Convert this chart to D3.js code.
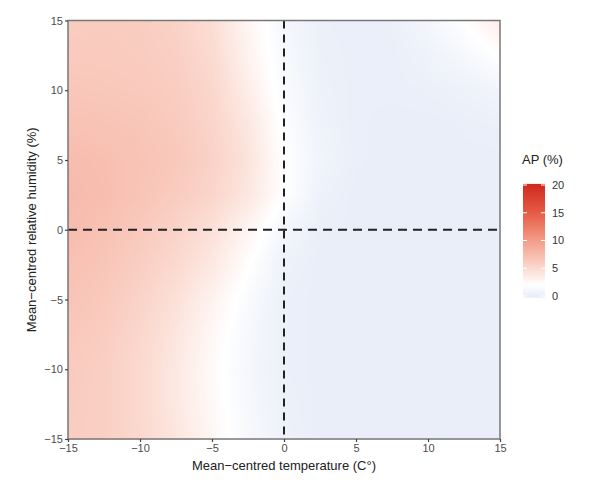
<!DOCTYPE html>
<html>
<head>
<meta charset="utf-8">
<script src="https://cdn.jsdelivr.net/npm/d3@7"></script>
<style>
  body { margin: 0; background: #fff; }
  svg { font-family: "Liberation Sans", Arial, sans-serif; }
</style>
</head>
<body>
<div id="chart"></div>
<script>
// grid of AP (%), x = temperature, y = humidity
const tempSteps = [-15, -12.5, -10, -7.5, -5, -2.5, 0, 2.5, 5, 7.5, 10, 12.5, 15];
const humSteps = [15, 12.5, 10, 7.5, 5, 2.5, 0, -2.5, -5, -7.5, -10, -12.5, -15];
const apGrid = [
  [6.0, 6.1, 6.0, 5.6, 4.6, 2.8, 1.1, 0.3, 0.2, 0.3, 1.0, 2.0, 3.5],
  [6.2, 6.2, 6.1, 5.8, 4.9, 3.0, 1.3, 0.4, 0.2, 0.2, 0.6, 1.2, 2.0],
  [6.5, 6.4, 6.3, 6.0, 5.2, 3.4, 1.5, 0.5, 0.2, 0.2, 0.3, 0.5, 0.8],
  [6.9, 6.8, 6.6, 6.2, 5.4, 3.9, 1.8, 0.6, 0.2, 0.1, 0.1, 0.2, 0.3],
  [7.3, 7.1, 6.8, 6.4, 5.6, 4.2, 2.0, 0.8, 0.2, 0.1, 0.1, 0.1, 0.1],
  [7.5, 7.2, 6.7, 6.1, 5.3, 3.9, 2.0, 0.5, 0.1, 0.1, 0.1, 0.1, 0.1],
  [7.3, 6.9, 6.3, 5.5, 4.4, 2.8, 1.0, 0.2, 0.1, 0.1, 0.1, 0.1, 0.1],
  [7.0, 6.6, 5.9, 5.0, 3.8, 2.1, 0.5, 0.1, 0.1, 0.1, 0.1, 0.1, 0.1],
  [6.7, 6.3, 5.5, 4.4, 3.0, 1.5, 0.3, 0.1, 0.1, 0.1, 0.1, 0.1, 0.1],
  [6.4, 6.0, 5.2, 4.0, 2.6, 1.2, 0.3, 0.1, 0.1, 0.1, 0.1, 0.1, 0.1],
  [6.2, 5.8, 5.0, 3.8, 2.4, 1.1, 0.3, 0.1, 0.1, 0.1, 0.1, 0.1, 0.1],
  [6.1, 5.8, 5.0, 3.8, 2.5, 1.2, 0.4, 0.1, 0.1, 0.1, 0.1, 0.1, 0.1],
  [6.0, 5.8, 5.1, 4.0, 2.7, 1.3, 0.5, 0.1, 0.1, 0.1, 0.1, 0.1, 0.1]
];
const axisTicks = [-15, -10, -5, 0, 5, 10, 15];
const legendTicks = [0, 5, 10, 15, 20];
const colorStops = [0, 2, 5, 10, 15, 20];
const colorRange = ["#e8edf8", "#ffffff", "#fbd9cf", "#f39c88", "#e65b45", "#cf2a1f"];

const width = 600, height = 499;
const m = {left: 68, right: 100, top: 20.5, bottom: 60};

const svg = d3.select("#chart").append("svg")
  .attr("width", width).attr("height", height);

const x = d3.scaleLinear().domain([-15, 15]).range([m.left, width - m.right]);
const y = d3.scaleLinear().domain([-15, 15]).range([height - m.bottom, m.top]);

const color = d3.scaleLinear()
  .domain(colorStops)
  .range(colorRange)
  .clamp(true);

// raster, bilinear between grid nodes
const pw = Math.round(x(15) - x(-15)), ph = Math.round(y(-15) - y(15));
const canvas = document.createElement("canvas");
canvas.width = pw; canvas.height = ph;
const ctx = canvas.getContext("2d");
const img = ctx.createImageData(pw, ph);
const gi = d3.scaleLinear().domain([-15, 15]).range([0, tempSteps.length - 1]);
const gj = d3.scaleLinear().domain([15, -15]).range([0, humSteps.length - 1]);
for (let py = 0; py < ph; py++) {
  const hv = y.invert(m.top + py + 0.5);
  const fj = Math.max(0, Math.min(humSteps.length - 1.0001, gj(hv)));
  const j0 = Math.floor(fj), tj = fj - j0;
  for (let px = 0; px < pw; px++) {
    const tv = x.invert(m.left + px + 0.5);
    const fi = Math.max(0, Math.min(tempSteps.length - 1.0001, gi(tv)));
    const i0 = Math.floor(fi), ti = fi - i0;
    const v = (apGrid[j0][i0] * (1 - ti) + apGrid[j0][i0 + 1] * ti) * (1 - tj)
            + (apGrid[j0 + 1][i0] * (1 - ti) + apGrid[j0 + 1][i0 + 1] * ti) * tj;
    const c = d3.rgb(color(v));
    const k = (py * pw + px) * 4;
    img.data[k] = c.r; img.data[k + 1] = c.g; img.data[k + 2] = c.b; img.data[k + 3] = 255;
  }
}
ctx.putImageData(img, 0, 0);
svg.append("image")
  .attr("x", x(-15)).attr("y", y(15))
  .attr("width", pw).attr("height", ph)
  .attr("preserveAspectRatio", "none")
  .attr("href", canvas.toDataURL());

// reference lines at 0
svg.append("line")
  .attr("x1", x(-15)).attr("x2", x(15)).attr("y1", y(0)).attr("y2", y(0))
  .attr("stroke", "#222").attr("stroke-width", 2).attr("stroke-dasharray", "9,6");
svg.append("line")
  .attr("x1", x(0)).attr("x2", x(0)).attr("y1", y(15)).attr("y2", y(-15))
  .attr("stroke", "#222").attr("stroke-width", 2).attr("stroke-dasharray", "8,6");

// panel border
svg.append("rect")
  .attr("x", x(-15)).attr("y", y(15))
  .attr("width", x(15) - x(-15)).attr("height", y(-15) - y(15))
  .attr("fill", "none").attr("stroke", "#777").attr("stroke-width", 1.5);

// axes
const styleAxis = g => {
  g.select(".domain").remove();
  g.selectAll(".tick line").attr("stroke", "#444").attr("stroke-width", 1.2);
  g.selectAll(".tick text").attr("fill", "#4d4d4d").attr("font-size", 11);
};
svg.append("g")
  .attr("transform", `translate(0,${y(-15)})`)
  .call(d3.axisBottom(x).tickValues(axisTicks).tickSize(3).tickPadding(2)
    .tickFormat(d => d < 0 ? "\u2212" + Math.abs(d) : d))
  .call(styleAxis);
svg.append("g")
  .attr("transform", `translate(${x(-15)},0)`)
  .call(d3.axisLeft(y).tickValues(axisTicks).tickSize(3).tickPadding(2)
    .tickFormat(d => d < 0 ? "\u2212" + Math.abs(d) : d))
  .call(styleAxis);

svg.append("text")
  .attr("x", x(0)).attr("y", 470)
  .attr("text-anchor", "middle").attr("font-size", 13).attr("fill", "#222")
  .text("Mean\u2212centred temperature (C\u00b0)");
svg.append("text")
  .attr("transform", `translate(36,${y(0)}) rotate(-90)`)
  .attr("text-anchor", "middle").attr("font-size", 13).attr("fill", "#222")
  .text("Mean\u2212centred relative humidity (%)");

// legend
const lg = svg.append("g");
const ly = d3.scaleLinear().domain([0, 20]).range([296, 185]);
const defs = svg.append("defs");
const grad = defs.append("linearGradient").attr("id", "apgrad")
  .attr("x1", 0).attr("x2", 0).attr("y1", 1).attr("y2", 0);
const barLo = -0.3, barHi = 20.2;
d3.range(0, 41).forEach(i => {
  const v = barLo + (barHi - barLo) * i / 40;
  grad.append("stop").attr("offset", i / 40).attr("stop-color", color(v));
});
lg.append("rect")
  .attr("x", 523).attr("y", ly(barHi)).attr("width", 22).attr("height", ly(barLo) - ly(barHi))
  .attr("fill", "url(#apgrad)");
legendTicks.forEach(t => {
  lg.append("line").attr("x1", 523).attr("x2", 527).attr("y1", ly(t)).attr("y2", ly(t))
    .attr("stroke", "#fff").attr("stroke-width", 1);
  lg.append("line").attr("x1", 541).attr("x2", 545).attr("y1", ly(t)).attr("y2", ly(t))
    .attr("stroke", "#fff").attr("stroke-width", 1);
  lg.append("text").attr("x", 552).attr("y", ly(t)).attr("dy", "0.35em")
    .attr("font-size", 11).attr("fill", "#333").text(t);
});
lg.append("text").attr("x", 522).attr("y", 164)
  .attr("font-size", 13).attr("fill", "#222").text("AP (%)");
</script>
</body>
</html>
